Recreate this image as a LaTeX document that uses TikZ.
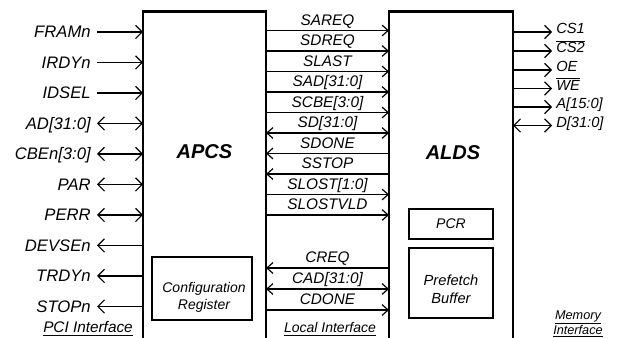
\documentclass[tikz,border=0pt]{standalone}
\usepackage{fontspec}
\setmainfont{Liberation Sans}
\usetikzlibrary{arrows.meta,positioning}

\begin{document}
\begin{tikzpicture}[
  x=0.75pt, y=-0.75pt,
  block/.style={inner sep=0pt, outer sep=0pt},
  blockedge/.style={line width=1.6pt},
  innerbox/.style={draw, line width=1pt, inner sep=0pt, outer sep=0pt},
  boxtext/.style={inner sep=0pt, align=center, font=\fontsize{10.5}{12.75}\selectfont\itshape},
  title/.style={font=\fontsize{15}{18}\selectfont\bfseries\itshape},
  pin/.style={anchor=base east, inner sep=0pt, font=\fontsize{12.5}{15}\selectfont\itshape},
  bus/.style={anchor=base, inner sep=0pt, font=\fontsize{11.5}{14}\selectfont\itshape},
  mem/.style={anchor=base west, inner sep=0pt, font=\fontsize{11}{13}\selectfont\itshape},
  iface/.style={inner sep=0pt, align=center, font=\fontsize{10.5}{13.5}\selectfont\itshape},
  sig/.style={line width=0.9pt},
  midsig/.style={sig, >={Straight Barb[length=4.5pt,width=8pt]}},
  >={Straight Barb[length=5pt,width=10pt]}
]
\useasboundingbox (0,0) rectangle (625,338);

% Main blocks
\node[block, minimum width=92.25pt, minimum height=244.9pt] (apcs) at (204.5,174.75) {};
\node[block, minimum width=93pt, minimum height=244.9pt]    (alds) at (451,174.75) {};
\draw[blockedge] (apcs.south west) -- (apcs.north west) -- (apcs.north east) -- (apcs.south east);
\draw[blockedge] (alds.south west) -- (alds.north west) -- (alds.north east) -- (alds.south east);
\node[title] (apcstitle) at (204.5,152) {APCS};
\node[title] (aldstitle) at (453,153) {ALDS};

% Inner boxes
\node[innerbox, minimum width=75pt, minimum height=47.25pt] (cfg) at (202,288.5) {};
\node[innerbox, minimum width=63pt, minimum height=22.5pt]  (pcr) at (451,224) {};
\node[innerbox, minimum width=63pt, minimum height=52.5pt]  (pfb) at (451,283) {};
\node[boxtext] (cfgtxt) at (204,297) {Configuration\\Register};
\node[boxtext] (pcrtxt) at (451,224) {PCR};
\node[boxtext, font=\fontsize{11}{13.5}\selectfont\itshape] (pfbtxt) at (451,289) {Prefetch\\Buffer};

% PCI side
\foreach \nm/\txt/\y/\d in {fram/FRAMn/32/->, irdy/IRDYn/62.5/->, idsel/IDSEL/93/->,
    ad/AD[31:0]/123.5/<->, cbe/CBEn[3:0]/154/<->, par/PAR/184.5/<->, perr/PERR/215/<->,
    devsel/DEVSEn/245.5/<-, trdy/TRDYn/276/<-, stop/STOPn/306.5/<-}
{
  \coordinate (\nm) at (97,\y);
  \node[pin] (\nm-txt) at (91,\y+6) {\txt};
  \draw[sig,\d] (\nm) -- (\nm -| apcs.west);
}

% Local side
\foreach \nm/\txt/\y/\d in {sareq/SAREQ/30.5/->, sdreq/SDREQ/51/->, slast/SLAST/71.5/->,
    sad/SAD[31:0]/92/->, scbe/SCBE[3:0]/112.5/->, sd/SD[31:0]/133/<->,
    sdone/SDONE/153.5/<-, sstop/SSTOP/174/<-, slost/SLOST[1:0]/194.5/->,
    slostvld/SLOSTVLD/215/->, creq/CREQ/268/<-, cad/CAD[31:0]/289/<->, cdone/CDONE/310/->}
{
  \coordinate (\nm) at (327.5,\y);
  \node[bus] (\nm-txt) at (327.5,\y-5) {\txt};
  \draw[midsig,\d] (\nm -| apcs.east) -- (\nm -| alds.west);
}

% Memory side
\foreach \nm/\txt/\y/\d in {cs1/CS1/32/->, cs2/{$\overline{\mbox{\itshape CS2}}$}/51/->,
    oe/OE/70/->, we/{$\overline{\mbox{\itshape WE}}$}/88.5/->,
    addr/A[15:0]/107/->, data/D[31:0]/125.5/<->}
{
  \coordinate (\nm) at (552,\y);
  \node[mem] (\nm-txt) at (556,\y+2) {\txt};
  \draw[sig,\d] (\nm -| alds.east) -- (\nm);
}

% Interface labels
\node[iface, anchor=base, font=\fontsize{11.5}{13.5}\selectfont\itshape] (pcilbl) at (88,333) {\underline{PCI Interface}};
\node[iface, anchor=base] (locallbl) at (330,333) {\underline{Local Interface}};
\node[iface, anchor=south, font=\fontsize{9.5}{11.5}\selectfont\itshape] (memlbl) at (578,337.5)
  {\underline{Memory}\\\underline{Interface}};
\end{tikzpicture}
\end{document}
